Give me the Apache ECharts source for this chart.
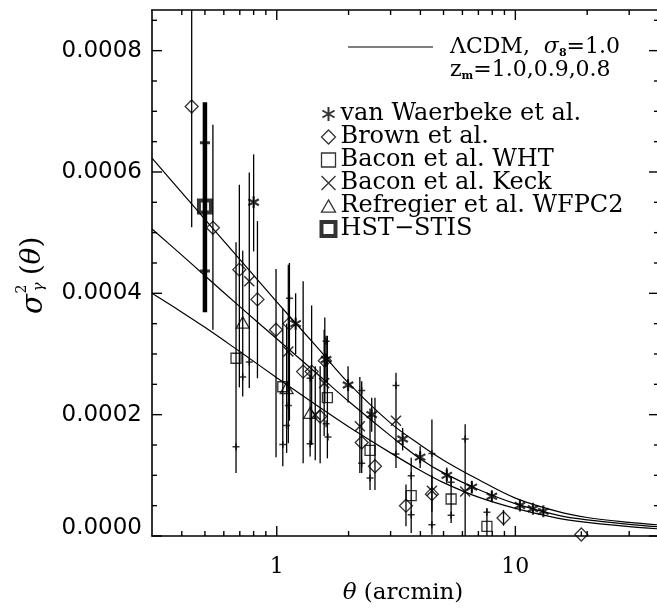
<!DOCTYPE html>
<html><head><meta charset="utf-8">
<script src="https://cdn.jsdelivr.net/npm/echarts@6/dist/echarts.min.js"></script>
<style>html,body{margin:0;padding:0;background:#fff}#c{width:657px;height:608px}</style>
</head><body><div id="c"></div>
<script>
// ---------- model curves (LambdaCDM, sigma8 = 1.0) ----------
const thetaGrid = [0.3,0.4,0.5,0.7,1,1.5,2,3,4,5,7,10,15,20,30,40];
const modelZm10 = [0.000623,0.000566,0.000522,0.000456,0.000386,0.000308,0.000252,0.000186,0.000150,0.000125,0.000093,0.0000625,0.0000405,0.0000305,0.0000225,0.0000183];
const modelZm09 = [0.000506,0.000463,0.000429,0.000378,0.000325,0.000265,0.000222,0.000165,0.000127,0.000104,0.0000767,0.0000533,0.0000345,0.0000265,0.0000192,0.0000152];
const modelZm08 = [0.000400,0.000369,0.000344,0.000304,0.000261,0.000213,0.000180,0.000137,0.000108,0.000088,0.000064,0.0000455,0.0000295,0.0000225,0.0000155,0.0000117];

// ---------- measurements: [theta, value, low end of bar, high end of bar] ----------
const vanWaerbeke = [
  [0.80,0.000550,0.000469,0.000629],[1.20,0.000350,0.000300,0.000400],[1.61,0.000291,0.000255,0.000330],
  [1.99,0.000249,0.000220,0.000280],[2.50,0.000200,0.000172,0.000228],[3.37,0.000160,0.000141,0.000178],
  [3.99,0.000130,0.000112,0.000148],[5.16,0.000100,0.000087,0.000113],[6.57,0.0000805,0.000070,0.000091],
  [7.97,0.0000655,0.000057,0.000074],[10.45,0.0000503,0.000044,0.000057],[11.85,0.0000448,0.000040,0.000050],
  [13.1,0.0000406,0.000036,0.000045]
];
const brown = [
  [0.44,0.000708,0.000509,0.000950],[0.54,0.000508,0.000340,0.000678],[0.697,0.000439,0.000245,0.000579],
  [0.83,0.000390,0.000260,0.000519],[0.993,0.000340,0.000130,0.000440],[1.13,0.000350,0.000190,0.000450],
  [1.29,0.000271,0.000120,0.000420],[1.40,0.000271,0.000150,0.000380],[1.52,0.000197,0.000120,0.000280],
  [1.59,0.000289,0.000220,0.000360],[2.27,0.000154,0.000104,0.000255],[2.58,0.000115,0.000076,0.000228],
  [3.48,0.000050,0.000016,0.000085],[4.47,0.000069,0.000040,0.000100],[8.92,0.0000297,0.000017,0.000043],
  [18.9,0.0000025,0.000000,0.000008]
];
const baconWHT = [
  [0.675,0.000293,0.000104,0.000484],[1.06,0.000246,0.000115,0.000375],[1.63,0.000228,0.000128,0.000330],
  [2.46,0.000141,0.000076,0.000210],[3.66,0.0000665,0.000005,0.000129],[5.38,0.000061,0.0000214,0.0000983],
  [7.6,0.0000158,0.000000,0.000046]
];
const baconKeck = [
  [0.767,0.000420,0.000244,0.000599],[1.118,0.000304,0.000153,0.000447],[1.45,0.000200,0.000125,0.000280],
  [1.58,0.000252,0.000165,0.000340],[2.23,0.000181,0.000104,0.000262],[3.16,0.000190,0.000112,0.000269],
  [4.47,0.0000747,0.000002,0.000192],[6.16,0.0000735,0.000000,0.000184]
];
const refregier = [
  [0.72,0.000352,0.000230,0.000470],[1.10,0.000244,0.000137,0.000350],[1.38,0.000203,0.000131,0.000275]
];
const hstStis = [[0.50,0.000543,0.000369,0.000715]];
const hstInnerTicks = [[0.50,0.000648],[0.50,0.000437]];
const innerTicks = [
  [0.675,0.000147],[0.72,0.000262],[0.767,0.000287],[1.13,0.000392],[1.06,0.000151],[1.10,0.000182],
  [1.118,0.000215],[1.38,0.000152],[1.38,0.000260],[1.61,0.000321],[1.61,0.000185],[1.64,0.000163],
  [2.27,0.000240],[2.27,0.000120],[2.46,0.0000956],[3.16,0.000248],[3.16,0.000135],[3.66,0.0000994],
  [3.66,0.0000351],[4.47,0.000136],[4.47,0.0000186],[5.38,0.0000884],[5.38,0.000034],[6.16,0.000160],
  [7.6,0.000039]
];

// ---------- axis ticks ----------
const xMajorTicks = [1,10];
const xMinorTicks = [0.4,0.5,0.6,0.7,0.8,0.9,2,3,4,5,6,7,8,9,20,30];
const yMajorTicks = [0,0.0002,0.0004,0.0006,0.0008];
const yMinorTicks = [0.00005,0.0001,0.00015,0.00025,0.0003,0.00035,0.00045,0.0005,0.00055,0.00065,0.0007,0.00075,0.00085];

const legendNames = ['van Waerbeke et al.','Brown et al.','Bacon et al. WHT','Bacon et al. Keck','Refregier et al. WFPC2','HST\u2212STIS'];

const X_MIN = 0.3, X_MAX = 40, Y_MIN = 0, Y_MAX = 0.000867;
const SERIF = 'DejaVu Serif', SANS = 'DejaVu Sans';

const SYM = {
  asterisk: 'path://M5,0L5,10M0.67,2.5L9.33,7.5M0.67,7.5L9.33,2.5',
  diamond: 'path://M5,0L10,5L5,10L0,5Z',
  square: 'path://M0,0L10,0L10,10L0,10Z',
  cross: 'path://M0,0L10,10M0,10L10,0',
  triangle: 'path://M5,0L10,8.66L0,8.66Z',
  plus: 'path://M0,5L10,5M5,0L5,10'
};
const legendIcons = [SYM.asterisk, SYM.diamond, SYM.square, SYM.cross, SYM.triangle, SYM.square];
const legendWidths = [2, 1.3, 1.3, 1.4, 1.3, 4];

function errRender(width) {
  return function (params, api) {
    const t = api.value(0), lo = api.value(2), hi = api.value(3);
    const p1 = api.coord([t, lo]), p2 = api.coord([t, hi]);
    return {type:'line', shape:{x1:p1[0], y1:p1[1], x2:p2[0], y2:p2[1]},
            style:{stroke:'#000', lineWidth:width}};
  };
}
function xTickRender(len) {
  return function (params, api) {
    const cs = params.coordSys;
    const x = api.coord([api.value(0), Y_MIN])[0];
    const yb = cs.y + cs.height, yt = cs.y;
    return {type:'group', children:[
      {type:'line', shape:{x1:x, y1:yb, x2:x, y2:yb-len}, style:{stroke:'#000', lineWidth:1.4}},
      {type:'line', shape:{x1:x, y1:yt, x2:x, y2:yt+len}, style:{stroke:'#000', lineWidth:1.4}}
    ]};
  };
}
function yTickRender(len) {
  return function (params, api) {
    const cs = params.coordSys;
    const y = api.coord([X_MIN, api.value(1)])[1];
    const xl = cs.x, xr = cs.x + cs.width;
    return {type:'group', children:[
      {type:'line', shape:{x1:xl, y1:y, x2:xl+len, y2:y}, style:{stroke:'#000', lineWidth:1.4}},
      {type:'line', shape:{x1:xr, y1:y, x2:xr-len, y2:y}, style:{stroke:'#000', lineWidth:1.4}}
    ]};
  };
}
function errSeries(name, data, width) {
  return {type:'custom', name:name, data:data, renderItem:errRender(width), clip:true,
          encode:{x:0, y:1}, silent:true, z:3};
}
function markSeries(name, data, symbol, size, bw) {
  return {type:'scatter', name:name, data:data.map(d => [d[0], d[1]]), symbol:symbol,
          symbolSize:size, symbolKeepAspect:true, silent:true, z:5,
          itemStyle:{color:'none', borderColor:'#000', borderWidth:bw}};
}
function curve(name, values) {
  return {type:'line', name:name, data:thetaGrid.map((t, i) => [t, values[i]]), showSymbol:false,
          smooth:0.35, silent:true, z:2, lineStyle:{color:'#000', width:1.2}};
}

const chart = echarts.init(document.getElementById('c'), null, {renderer:'canvas'});
chart.setOption({
  animation:false,
  backgroundColor:'#fff',
  grid:{left:152, top:10, width:507, height:526, containLabel:false, outerBoundsMode:'none'},
  xAxis:[
    {type:'log', logBase:10, min:X_MIN, max:X_MAX, position:'bottom',
     axisLine:{show:true, onZero:false, lineStyle:{color:'#000', width:1.6}},
     axisTick:{show:false}, minorTick:{show:false}, splitLine:{show:false}, minorSplitLine:{show:false},
     axisLabel:{fontFamily:SERIF, fontSize:22, color:'#000', margin:20, showMinLabel:false, showMaxLabel:false,
       formatter: v => xMajorTicks.some(t => Math.abs(t - v) < 1e-9) ? String(Math.round(v)) : ''}},
    {type:'log', logBase:10, min:X_MIN, max:X_MAX, position:'top',
     axisLine:{show:true, onZero:false, lineStyle:{color:'#000', width:1.6}},
     axisTick:{show:false}, axisLabel:{show:false}, splitLine:{show:false}}
  ],
  yAxis:[
    {type:'value', min:Y_MIN, max:Y_MAX, interval:0.0002, position:'left',
     axisLine:{show:true, onZero:false, lineStyle:{color:'#000', width:1.6}},
     axisTick:{show:false}, splitLine:{show:false},
     axisLabel:{fontFamily:SANS, fontSize:23, color:'#000', margin:10, showMaxLabel:false, lineHeight:16,
       verticalAlignMinLabel:'bottom', formatter: v => v.toFixed(4)}},
    {type:'value', min:Y_MIN, max:Y_MAX, interval:0.0002, position:'right',
     axisLine:{show:true, onZero:false, lineStyle:{color:'#000', width:1.6}},
     axisTick:{show:false}, axisLabel:{show:false}, splitLine:{show:false}}
  ],
  legend:{
    orient:'vertical', left:314, top:97, itemWidth:14, itemHeight:14, itemGap:-1,
    selectedMode:false,
    data: legendNames.map((n, i) => ({name:n, icon:legendIcons[i],
      itemStyle:{color:'none', borderColor:'#000', borderWidth:legendWidths[i]}})),
    textStyle:{fontFamily:SERIF, fontSize:24, color:'#000', lineHeight:23}
  },
  graphic:[
    {type:'line', shape:{x1:348, y1:47, x2:433, y2:47}, style:{stroke:'#000', lineWidth:1.2}},
    {type:'text', x:450, y:47, style:{
      text:'\u039bCDM,  {i|\u03c3}{sub|8}=1.0', fill:'#000', fontFamily:SERIF, fontSize:22,
      verticalAlign:'middle', lineHeight:24,
      rich:{i:{fontStyle:'italic', fontFamily:SERIF, fontSize:22, lineHeight:24},
            sub:{fontSize:11, fontWeight:'bold', fontFamily:SERIF, verticalAlign:'bottom', lineHeight:10}}}},
    {type:'text', x:450, y:70, style:{
      text:'{z|z}{sub|m}=1.0,0.9,0.8', fill:'#000', fontFamily:SERIF, fontSize:22,
      verticalAlign:'middle', lineHeight:24,
      rich:{z:{fontFamily:SERIF, fontSize:22, lineHeight:24},
            sub:{fontSize:11, fontWeight:'bold', fontFamily:SERIF, verticalAlign:'bottom', lineHeight:10}}}},
    {type:'text', x:403, y:593, style:{
      text:'{i|\u03b8} (arcmin)', fill:'#000', fontFamily:SERIF, fontSize:23, align:'center', verticalAlign:'middle',
      rich:{i:{fontStyle:'italic', fontFamily:SERIF, fontSize:23}}}},
    {type:'group', x:33, y:273, rotation:Math.PI/2, children:[
      {type:'text', x:-31, y:1, style:{text:'\u03c3', fill:'#000', fontFamily:SERIF, fontStyle:'italic', fontSize:29, align:'center', verticalAlign:'middle'}},
      {type:'text', x:-16, y:-11, style:{text:'2', fill:'#000', fontFamily:SERIF, fontSize:14, align:'center', verticalAlign:'middle'}},
      {type:'text', x:-14, y:6, style:{text:'\u03b3', fill:'#000', fontFamily:SERIF, fontStyle:'italic', fontSize:15, align:'center', verticalAlign:'middle'}},
      {type:'text', x:17, y:0, style:{text:'({i|\u03b8})', fill:'#000', fontFamily:SERIF, fontSize:28, align:'center', verticalAlign:'middle',
        rich:{i:{fontStyle:'italic', fontFamily:SERIF, fontSize:28}}}}
    ]}
  ],
  series:[
    {type:'custom', name:'xMajor', data:xMajorTicks.map(v => [v, Y_MIN]), renderItem:xTickRender(10), encode:{x:0, y:1}, silent:true, z:4},
    {type:'custom', name:'xMinor', data:xMinorTicks.map(v => [v, Y_MIN]), renderItem:xTickRender(5), encode:{x:0, y:1}, silent:true, z:4},
    {type:'custom', name:'yMajor', data:yMajorTicks.map(v => [X_MIN, v]), renderItem:yTickRender(10), encode:{x:0, y:1}, silent:true, z:4},
    {type:'custom', name:'yMinor', data:yMinorTicks.map(v => [X_MIN, v]), renderItem:yTickRender(5), encode:{x:0, y:1}, silent:true, z:4},
    curve('zm1.0', modelZm10), curve('zm0.9', modelZm09), curve('zm0.8', modelZm08),
    errSeries('vWerr', vanWaerbeke, 1.3), errSeries('Berr', brown, 1.3), errSeries('WHTerr', baconWHT, 1.3),
    errSeries('Keckerr', baconKeck, 1.3), errSeries('Rerr', refregier, 1.3), errSeries('HSTerr', hstStis, 4.5),
    markSeries(legendNames[0], vanWaerbeke, SYM.asterisk, 12, 2.2),
    markSeries(legendNames[1], brown, SYM.diamond, 13, 1.3),
    markSeries(legendNames[2], baconWHT, SYM.square, 10, 1.3),
    markSeries(legendNames[3], baconKeck, SYM.cross, 10, 1.5),
    markSeries(legendNames[4], refregier, SYM.triangle, 13, 1.3),
    markSeries(legendNames[5], hstStis, SYM.square, 12, 4),
    {type:'scatter', name:'ticks', data:innerTicks, symbol:SYM.plus, symbolSize:7, silent:true, z:5,
     itemStyle:{color:'none', borderColor:'#000', borderWidth:1.5}},
    {type:'scatter', name:'hstTicks', data:hstInnerTicks, symbol:SYM.plus, symbolSize:10, silent:true, z:5,
     itemStyle:{color:'none', borderColor:'#000', borderWidth:3}}
  ]
});
</script>
</body></html>
